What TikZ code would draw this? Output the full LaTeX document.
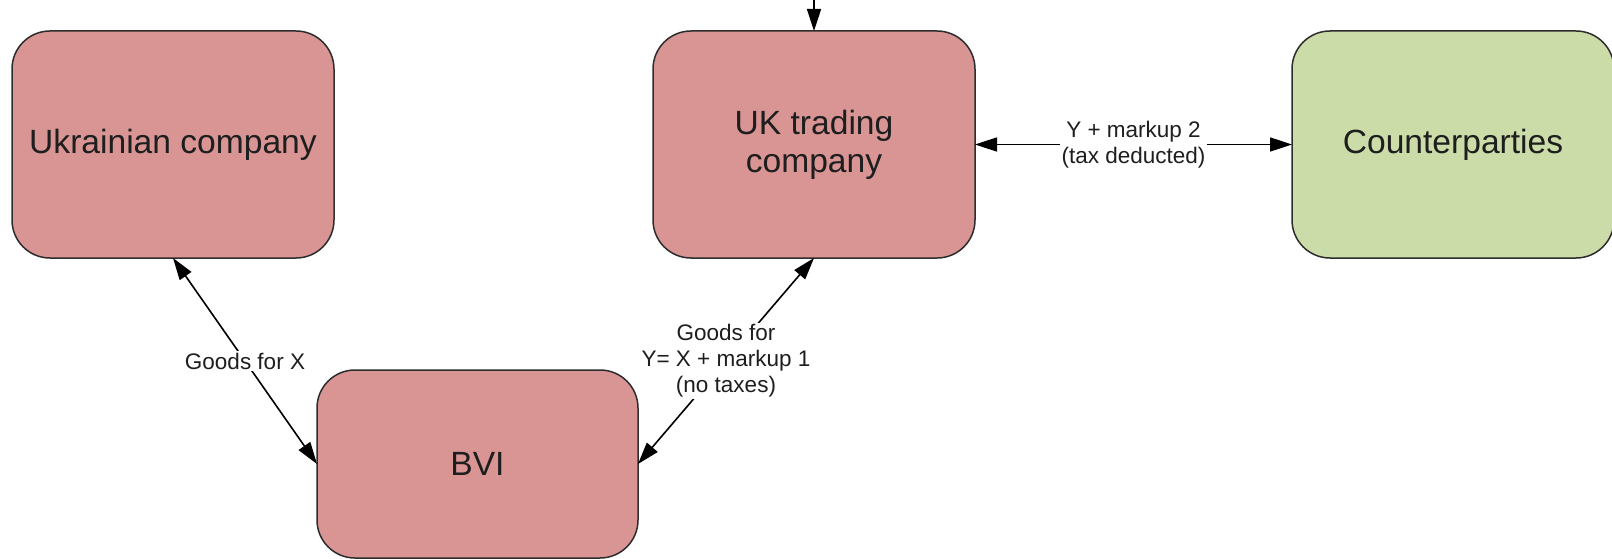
\documentclass[tikz,border=0pt]{standalone}
\usepackage{fontspec}
\setmainfont{Liberation Sans}
\usetikzlibrary{arrows.meta}
\definecolor{boxred}{RGB}{217,149,148}
\definecolor{boxgreen}{RGB}{204,220,168}
\definecolor{edgegray}{RGB}{45,45,45}
\definecolor{txtgray}{RGB}{30,30,30}
\begin{document}
\begin{tikzpicture}[x=1pt,y=-1pt,
  entity/.style={draw=edgegray, line width=1.5pt, rounded corners=38pt,
    minimum width=322pt, minimum height=227pt, align=center,
    font=\fontsize{33.6}{38}\selectfont, text=txtgray, inner sep=0pt, outer sep=0pt},
  link/.style={line width=1.6pt, draw=black, {Triangle[length=22pt,width=14pt]}-{Triangle[length=22pt,width=14pt]}},
  lbl/.style={fill=white, align=center, font=\fontsize{22.5}{26}\selectfont,
    inner sep=1.5pt, text=txtgray}]
\useasboundingbox (0,0) rectangle (1612,559);
\fill[white] (0,0) rectangle (1612,559);

\node[entity, fill=boxred] (ukr) at (173,144.5) {Ukrainian company};
\node[entity, fill=boxred] (uk) at (814,144.5) {UK trading\\company};
\node[entity, fill=boxgreen] (cp) at (1453,144.5) {Counterparties};
\node[entity, fill=boxred, minimum width=321pt, minimum height=188pt] (bvi) at (477.5,464) {BVI};

\coordinate (topin) at (814,0);
\draw[line width=1.6pt, -{Triangle[length=22pt,width=14pt]}] (topin) -- (uk.north);

\draw[link] (ukr.south) -- node[lbl] {Goods for X} (bvi.west);
\draw[link] (uk.south) -- node[lbl] {Goods for\\Y= X + markup 1\\(no taxes)} (bvi.east);
\draw[link] (uk.east) -- node[lbl] {Y + markup 2\\(tax deducted)} (cp.west);
\end{tikzpicture}
\end{document}
